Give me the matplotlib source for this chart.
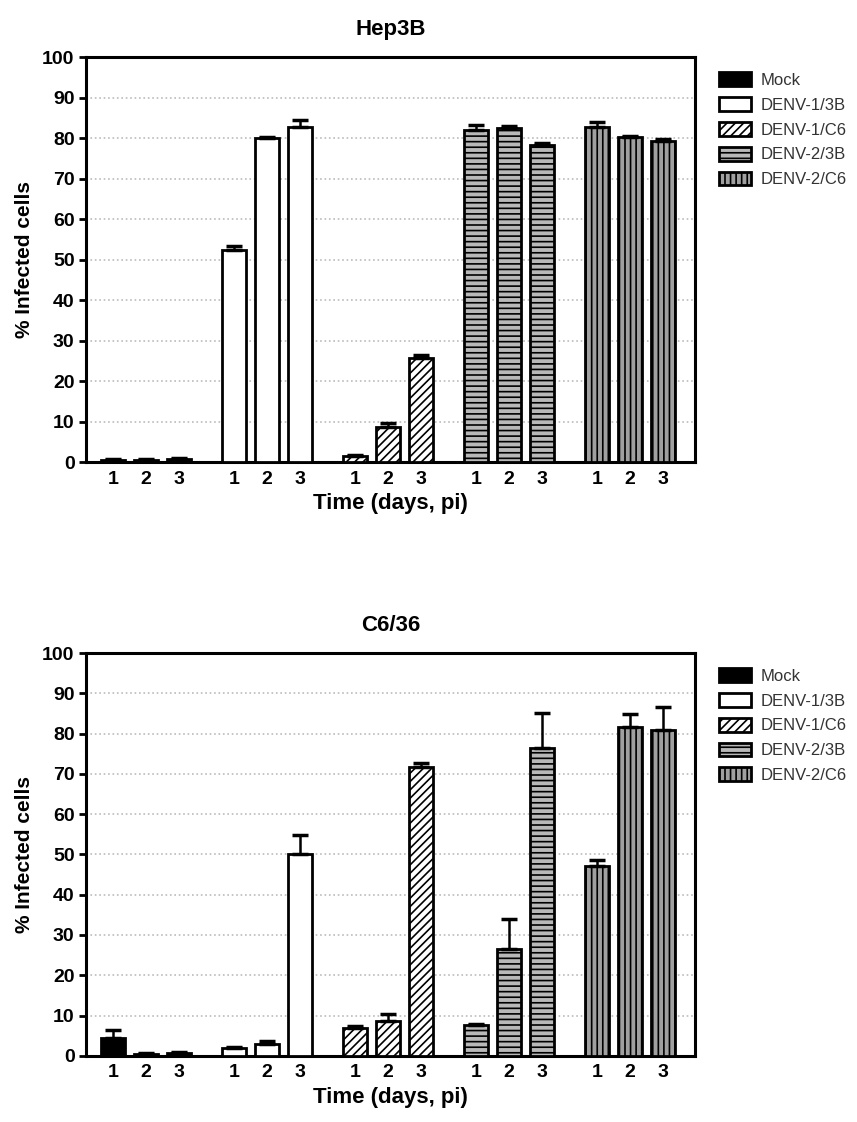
import numpy as np
import matplotlib
matplotlib.use('Agg')
import matplotlib.pyplot as plt

plt.rcParams['font.family'] = ['Liberation Sans', 'DejaVu Sans']
plt.rcParams['hatch.linewidth'] = 1.2

# data (% infected cells, mean and upper error)
series = ['Mock', 'DENV-1/3B', 'DENV-1/C6', 'DENV-2/3B', 'DENV-2/C6']
days = ['1', '2', '3']

hep3b_mean = [[0.5, 0.5, 0.7],
              [52.3, 80.0, 82.8],
              [1.5, 8.6, 25.7],
              [82.0, 82.5, 78.3],
              [82.7, 80.2, 79.3]]
hep3b_err = [[0.3, 0.3, 0.3],
             [1.1, 0.4, 1.6],
             [0.3, 1.0, 0.8],
             [1.2, 0.5, 0.5],
             [1.2, 0.3, 0.6]]

c636_mean = [[4.5, 0.5, 0.7],
             [2.0, 3.0, 50.2],
             [7.0, 8.7, 71.6],
             [7.7, 26.4, 76.3],
             [47.2, 81.6, 80.8]]
c636_err = [[1.8, 0.3, 0.3],
            [0.2, 0.6, 4.5],
            [0.5, 1.8, 1.0],
            [0.3, 7.6, 8.7],
            [1.3, 3.2, 5.8]]

facecolors = ['black', 'white', 'white', '#b8b8b8', '#a0a0a0']
hatches = [None, None, '////', '---', '|||']

group_step = 3.67
bar_w = 0.72


def draw_panel(ax, means, errs, title):
    for g in range(len(series)):
        x = g * group_step + np.arange(3)
        m = np.array(means[g])
        e = np.array(errs[g])
        ax.bar(x, m, width=bar_w, color=facecolors[g], edgecolor='black',
               linewidth=2, hatch=hatches[g], label=series[g], zorder=3)
        ax.errorbar(x, m, yerr=[np.zeros(3), e], fmt='none', ecolor='black',
                    elinewidth=1.8, capsize=6, capthick=2.5, zorder=4)
    ax.set_ylim(0, 100)
    ax.set_xlim(-0.82, 4 * group_step + 2 + 0.97)
    ax.set_yticks(np.arange(0, 101, 10))
    xt = np.concatenate([g * group_step + np.arange(3) for g in range(5)])
    ax.set_xticks(xt)
    ax.set_xticklabels(days * 5)
    ax.tick_params(axis='x', length=0, pad=6, labelsize=14)
    ax.tick_params(axis='y', length=5, width=2, labelsize=14, pad=3)
    for lab in ax.get_xticklabels() + ax.get_yticklabels():
        lab.set_fontweight('bold')
    for sp in ax.spines.values():
        sp.set_linewidth(2.2)
    ax.yaxis.grid(True, linestyle=':', color='#bbbbbb', linewidth=1.2, zorder=0)
    ax.set_axisbelow(True)
    ax.set_ylabel('% Infected cells', fontsize=15, fontweight='bold', labelpad=6)
    ax.set_xlabel('Time (days, pi)', fontsize=16, fontweight='bold', labelpad=4)
    ax.set_title(title, fontsize=16, fontweight='bold', pad=16)
    ax.legend(loc='upper left', bbox_to_anchor=(1.015, 1.0), frameon=False,
              fontsize=12, handlelength=1.9, handleheight=0.9,
              labelspacing=0.55, handletextpad=0.6, labelcolor='#333333')


fig = plt.figure(figsize=(8.57, 11.22), dpi=100)
ax1 = fig.add_axes([0.100, 0.588, 0.711, 0.361])
ax2 = fig.add_axes([0.100, 0.059, 0.711, 0.359])
draw_panel(ax1, hep3b_mean, hep3b_err, 'Hep3B')
draw_panel(ax2, c636_mean, c636_err, 'C6/36')

fig.savefig('out.png', dpi=100)
